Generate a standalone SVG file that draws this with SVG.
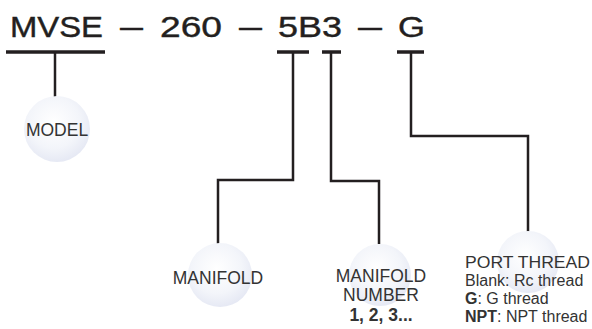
<svg xmlns="http://www.w3.org/2000/svg" width="592" height="329" viewBox="0 0 592 329">
  <defs>
    <radialGradient id="ball" cx="45%" cy="40%" r="60%">
      <stop offset="0" stop-color="#ffffff"/>
      <stop offset="0.65" stop-color="#f3f5fa"/>
      <stop offset="1" stop-color="#e6e9f4"/>
    </radialGradient>
  </defs>
  <style>
    .code { font-family: "Liberation Sans", Arial, sans-serif; font-size: 29px; fill: #231f20; stroke: #231f20; stroke-width: 0.4; }
    .bar { stroke: #231f20; stroke-width: 3.5; fill: none; }
    .conn { stroke: #231f20; stroke-width: 2.5; fill: none; }
    .ball { fill: url(#ball); }
    .lbl { font-family: "Liberation Sans", Arial, sans-serif; font-size: 17.5px; fill: #333333; text-anchor: middle; }
    .small { font-family: "Liberation Sans", Arial, sans-serif; font-size: 16px; fill: #333333; }
    .b { font-weight: bold; }
  </style>
  <rect width="592" height="329" fill="#ffffff"/>

  <g id="code">
    <text class="code" x="10" y="37" textLength="93" lengthAdjust="spacingAndGlyphs">MVSE</text>
    <text class="code" x="120" y="37" textLength="23" lengthAdjust="spacingAndGlyphs">—</text>
    <text class="code" x="160" y="37" textLength="62" lengthAdjust="spacingAndGlyphs">260</text>
    <text class="code" x="239" y="37" textLength="23" lengthAdjust="spacingAndGlyphs">—</text>
    <text class="code" x="278" y="37" textLength="64" lengthAdjust="spacingAndGlyphs">5B3</text>
    <text class="code" x="358" y="37" textLength="24" lengthAdjust="spacingAndGlyphs">—</text>
    <text class="code" x="398" y="37" textLength="27" lengthAdjust="spacingAndGlyphs">G</text>
  </g>

  <g id="connectors">
    <line class="bar" x1="6" y1="52" x2="105" y2="52"/>
    <line class="bar" x1="277" y1="52" x2="309" y2="52"/>
    <line class="bar" x1="322" y1="52" x2="341" y2="52"/>
    <line class="bar" x1="397" y1="52" x2="424" y2="52"/>
    <path class="conn" d="M55 52 V97"/>
    <path class="conn" d="M293 52 V180 H218 V244"/>
    <path class="conn" d="M331 52 V181 H379 V244"/>
    <path class="conn" d="M411 52 V136 H528 V232"/>
  </g>

  <g id="model">
    <circle class="ball" cx="57" cy="129" r="33"/>
    <text class="lbl" x="57" y="136" font-size="18">MODEL</text>
  </g>

  <g id="manifold">
    <circle class="ball" cx="220" cy="275" r="32"/>
    <text class="lbl" x="218" y="284">MANIFOLD</text>
  </g>

  <g id="manifold-number">
    <circle class="ball" cx="380" cy="275" r="31"/>
    <text class="lbl" x="381" y="282" font-size="17">MANIFOLD</text>
    <text class="lbl" x="381" y="301" font-size="17">NUMBER</text>
    <text class="lbl b" x="381" y="321" font-size="13">1, 2, 3...</text>
  </g>

  <g id="port-thread">
    <circle class="ball" cx="528" cy="262" r="31"/>
    <text class="small" x="465" y="268" font-size="17" textLength="125" lengthAdjust="spacingAndGlyphs">PORT THREAD</text>
    <text class="small" x="465" y="286">Blank: Rc thread</text>
    <text class="small" x="465" y="304"><tspan class="b">G</tspan>: G thread</text>
    <text class="small" x="465" y="322"><tspan class="b">NPT</tspan>: NPT thread</text>
  </g>
</svg>
